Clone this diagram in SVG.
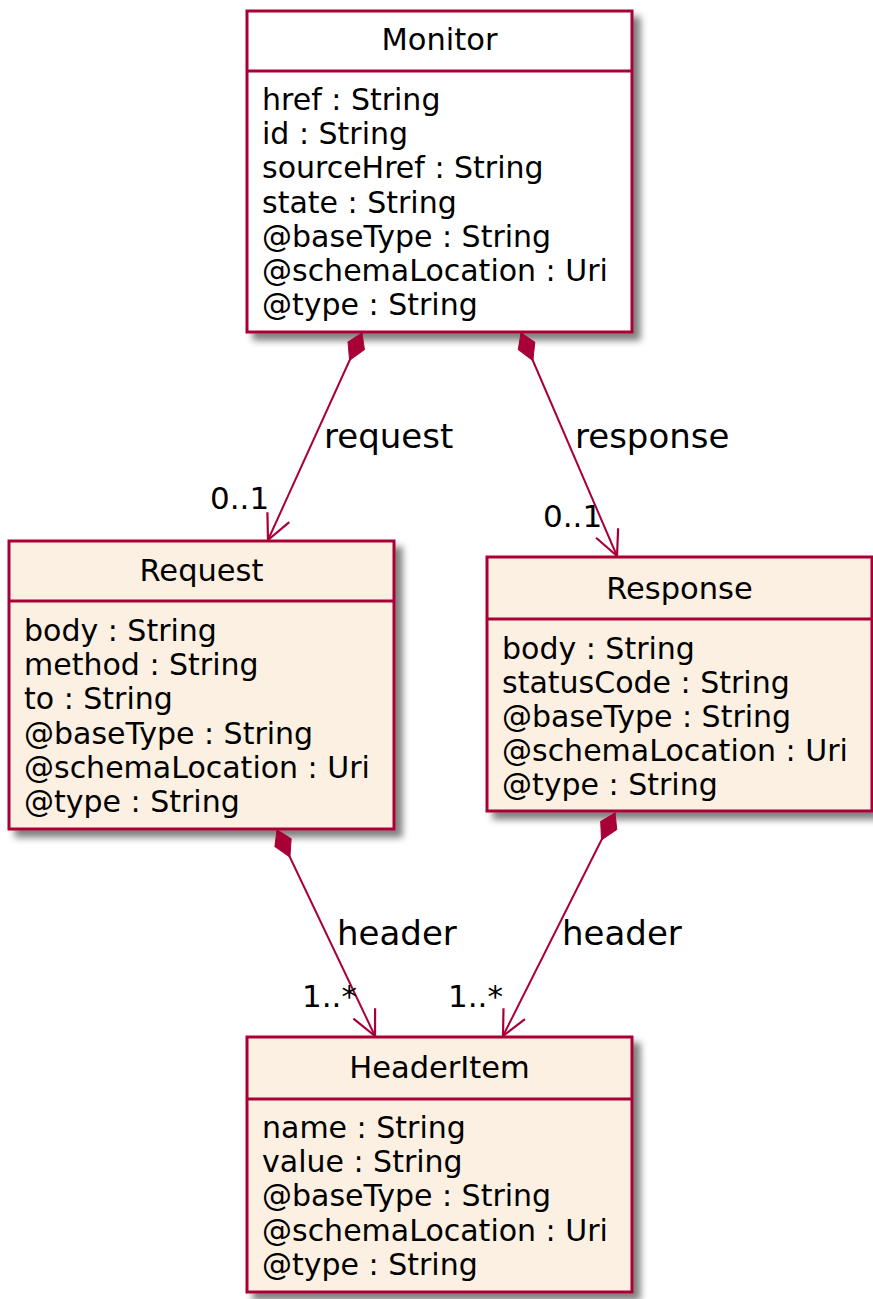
<svg xmlns="http://www.w3.org/2000/svg" width="873" height="1299" viewBox="0 0 873 1299">
<defs>
<filter id="sh" x="-10%" y="-10%" width="130%" height="130%">
<feGaussianBlur in="SourceAlpha" stdDeviation="3.5"/>
<feOffset dx="7" dy="7" result="b"/>
<feFlood flood-color="#000" flood-opacity="0.5"/>
<feComposite in2="b" operator="in" result="s"/>
<feMerge><feMergeNode in="s"/><feMergeNode in="SourceGraphic"/></feMerge>
</filter>
<marker id="dia" markerUnits="userSpaceOnUse" orient="auto" refX="0" refY="0" markerWidth="40" markerHeight="30" overflow="visible">
<path d="M0,0 L14,-9 L30,0 L14,9 Z" fill="#A80036" stroke="#A80036" stroke-width="1"/>
</marker>
<marker id="arr" markerUnits="userSpaceOnUse" orient="auto" refX="0" refY="0" markerWidth="40" markerHeight="30" overflow="visible">
<path d="M-25,-12 L0,0 L-25,12" fill="none" stroke="#A80036" stroke-width="2.2"/>
</marker>
</defs>
<style>
.box{stroke:#A80036;stroke-width:3;}
.sep{stroke:#A80036;stroke-width:3;}
.title{font-family:"DejaVu Sans",Verdana,sans-serif;font-size:30.5px;fill:#000;text-anchor:middle;}
.attr{font-family:"DejaVu Sans",Verdana,sans-serif;font-size:30px;fill:#000;}
.lbl{font-family:"DejaVu Sans",Verdana,sans-serif;font-size:34px;fill:#000;}
.mul{font-family:"DejaVu Sans",Verdana,sans-serif;font-size:31px;fill:#000;}
.edge{stroke:#A80036;stroke-width:2;fill:none;marker-start:url(#dia);marker-end:url(#arr);}
</style>
<rect width="873" height="1299" fill="#fff"/>

<g id="Monitor">
<rect class="box" x="247" y="11" width="385" height="321" fill="#ffffff" filter="url(#sh)"/>
<line class="sep" x1="247" y1="71" x2="632" y2="71"/>
<text class="title" x="439.5" y="50">Monitor</text>
<text class="attr" x="262" y="110">href : String</text>
<text class="attr" x="262" y="144">id : String</text>
<text class="attr" x="262" y="178">sourceHref : String</text>
<text class="attr" x="262" y="213">state : String</text>
<text class="attr" x="262" y="247">@baseType : String</text>
<text class="attr" x="262" y="281">@schemaLocation : Uri</text>
<text class="attr" x="262" y="315">@type : String</text>
</g>

<g id="Request">
<rect class="box" x="9" y="541" width="385" height="288" fill="#FBF0E2" filter="url(#sh)"/>
<line class="sep" x1="9" y1="601" x2="394" y2="601"/>
<text class="title" x="201.5" y="581">Request</text>
<text class="attr" x="24" y="641">body : String</text>
<text class="attr" x="24" y="675">method : String</text>
<text class="attr" x="24" y="709">to : String</text>
<text class="attr" x="24" y="744">@baseType : String</text>
<text class="attr" x="24" y="778">@schemaLocation : Uri</text>
<text class="attr" x="24" y="812">@type : String</text>
</g>

<g id="Response">
<rect class="box" x="487" y="557" width="385" height="254" fill="#FBF0E2" filter="url(#sh)"/>
<line class="sep" x1="487" y1="619" x2="872" y2="619"/>
<text class="title" x="679.5" y="599">Response</text>
<text class="attr" x="502" y="659">body : String</text>
<text class="attr" x="502" y="693">statusCode : String</text>
<text class="attr" x="502" y="727">@baseType : String</text>
<text class="attr" x="502" y="761">@schemaLocation : Uri</text>
<text class="attr" x="502" y="795">@type : String</text>
</g>

<g id="HeaderItem">
<rect class="box" x="247" y="1037" width="385" height="255" fill="#FBF0E2" filter="url(#sh)"/>
<line class="sep" x1="247" y1="1099" x2="632" y2="1099"/>
<text class="title" x="439.5" y="1078">HeaderItem</text>
<text class="attr" x="262" y="1138">name : String</text>
<text class="attr" x="262" y="1172">value : String</text>
<text class="attr" x="262" y="1206">@baseType : String</text>
<text class="attr" x="262" y="1241">@schemaLocation : Uri</text>
<text class="attr" x="262" y="1275">@type : String</text>
</g>

<g id="connectors">
<path class="edge" d="M362,333 L268,540"/>
<path class="edge" d="M521,333 L617,556"/>
<path class="edge" d="M277,830 L375,1036"/>
<path class="edge" d="M615,813 L503,1036"/>
<text class="lbl" x="324" y="448">request</text>
<text class="mul" x="210" y="509">0..1</text>
<text class="lbl" x="575" y="448">response</text>
<text class="mul" x="543" y="527">0..1</text>
<text class="lbl" x="337" y="945">header</text>
<text class="mul" x="302" y="1007">1..*</text>
<text class="lbl" x="562" y="945">header</text>
<text class="mul" x="448" y="1007">1..*</text>
</g>
</svg>
